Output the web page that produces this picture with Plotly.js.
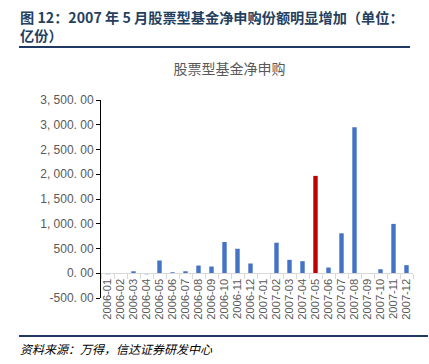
<!DOCTYPE html>
<html>
<head>
<meta charset="utf-8">
<script src="https://cdn.plot.ly/plotly-3.0.1.min.js"></script>
<style>
html,body{margin:0;padding:0;background:#fff;}
#chart{width:429px;height:364px;}
</style>
</head>
<body>
<div id="chart"></div>
<script>
const months = ["2006-01","2006-02","2006-03","2006-04","2006-05","2006-06","2006-07","2006-08","2006-09","2006-10","2006-11","2006-12",
                "2007-01","2007-02","2007-03","2007-04","2007-05","2007-06","2007-07","2007-08","2007-09","2007-10","2007-11","2007-12"];
const netPurchase = [-20,-10,40,-20,258,20,40,156,136,631,495,197,
                     5,617,271,244,1967,115,807,2951,0,81,997,163];
const highlightMonth = "2007-05";
const yTickVals = [-500,0,500,1000,1500,2000,2500,3000,3500];
const yTickText = ["-500. 00","0. 00","500. 00","1, 000. 00","1, 500. 00","2, 000. 00","2, 500. 00","3, 000. 00","3, 500. 00"];

const colors = months.map(m => m === highlightMonth ? "#C00000" : "#4472C4");

const CJK = '"Noto Sans CJK SC", "Liberation Sans", sans-serif';

const trace = {
  type: "bar",
  x: months,
  y: netPurchase,
  marker: {color: colors},
  hoverinfo: "x+y"
};

const layout = {
  width: 429, height: 364,
  margin: {l: 101, r: 16, t: 100, b: 66},
  paper_bgcolor: "#fff", plot_bgcolor: "#fff",
  showlegend: false,
  bargap: 0.66,
  font: {family: CJK, color: "#595959", size: 11},
  title: {
    text: "股票型基金净申购",
    font: {family: CJK, size: 14, color: "#595959"},
    x: 0.535, xanchor: "center", y: 0.81, yanchor: "middle"
  },
  xaxis: {
    type: "category",
    anchor: "free",
    position: 0.125,
    showline: true, linecolor: "#D9D9D9", linewidth: 1,
    ticks: "outside", tickson: "boundaries", ticklen: 5, tickcolor: "#D9D9D9",
    tickmode: "array", tickvals: months, ticktext: months,
    tickangle: -90,
    tickfont: {family: '"Liberation Sans", Arial, sans-serif', size: 11.2, color: "#595959"},
    showgrid: false, zeroline: false,
    range: [-0.5, 23.5]
  },
  yaxis: {
    range: [-500, 3500],
    tickvals: yTickVals, ticktext: yTickText,
    showline: true, linecolor: "#000", linewidth: 1,
    ticks: "outside", ticklen: 4, tickcolor: "#000",
    tickfont: {family: '"Liberation Sans", Arial, sans-serif', size: 12, color: "#595959"},
    showgrid: false, zeroline: false
  },
  annotations: [
    {xref: "paper", yref: "paper", x: -83/312, y: 1 + 74/198, xanchor: "left", yanchor: "middle", align: "left",
     text: "<b>图 12：2007 年 5 月股票型基金净申购份额明显增加（单位：<br>亿份）</b>", showarrow: false,
     font: {family: CJK, size: 14.2, color: "#243F60"}},
    {xref: "paper", yref: "paper", x: -83/312, y: -50/198, xanchor: "left", yanchor: "middle",
     text: "<i>资料来源：万得，信达证券研发中心</i>", showarrow: false,
     font: {family: CJK, size: 12, color: "#000"}}
  ],
  shapes: [
    {type: "line", xref: "paper", yref: "paper", x0: -82/312, x1: 1 - 3/312, y0: 1 + 53/198, y1: 1 + 53/198,
     line: {color: "#1F3864", width: 2}},
    {type: "line", xref: "paper", yref: "paper", x0: -82/312, x1: 327/312, y0: -38/198, y1: -38/198,
     line: {color: "#1F3864", width: 2}}
  ]
};

Plotly.newPlot("chart", [trace], layout, {displayModeBar: false, staticPlot: true});
</script>
</body>
</html>
